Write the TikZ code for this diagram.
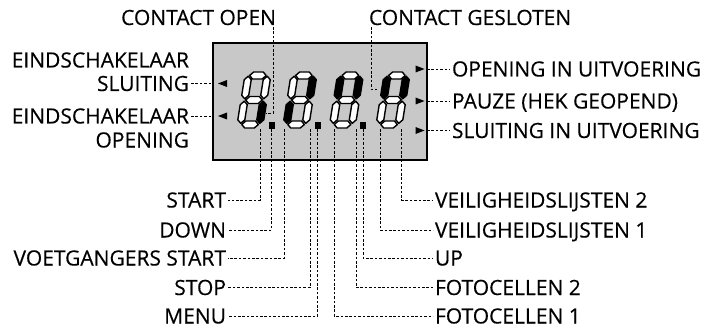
\documentclass[tikz,border=0pt]{standalone}
\usepackage{fontspec}
\setmainfont[FakeBold=0.35]{Open Sans}
\definecolor{boxgray}{RGB}{200,200,200}
\newcommand\sevdigit[8]{%
\begin{scope}[shift={(#1,128)}, x={(1pt,0pt)}, y={(0.16pt,1pt)}]
\filldraw[seg,fill=#2] (4.7,52.5) -- (8.2,56) -- (17.8,56) -- (21.3,52.5) -- (17.8,49) -- (8.2,49) -- cycle;
\filldraw[seg,fill=#3] (22.5,29.2) -- (26,32.7) -- (26,48.3) -- (22.5,51.8) -- (19,48.3) -- (19,32.7) -- cycle;
\filldraw[seg,fill=#4] (22.5,4.7) -- (26,8.2) -- (26,23.3) -- (22.5,26.8) -- (19,23.3) -- (19,8.2) -- cycle;
\filldraw[seg,fill=#5] (4.7,3.5) -- (8.2,7) -- (17.8,7) -- (21.3,3.5) -- (17.8,0) -- (8.2,0) -- cycle;
\filldraw[seg,fill=#6] (3.5,4.7) -- (7,8.2) -- (7,23.3) -- (3.5,26.8) -- (0,23.3) -- (0,8.2) -- cycle;
\filldraw[seg,fill=#7] (3.5,29.2) -- (7,32.7) -- (7,48.3) -- (3.5,51.8) -- (0,48.3) -- (0,32.7) -- cycle;
\filldraw[seg,fill=#8] (4.7,28) -- (8.2,31.5) -- (17.8,31.5) -- (21.3,28) -- (17.8,24.5) -- (8.2,24.5) -- cycle;
\end{scope}}
\begin{document}
\begin{tikzpicture}[x=1pt,y=-1pt,
  lbl/.style={font=\fontsize{21}{21}\selectfont, inner sep=0pt, outer sep=2pt, text height=15pt, text depth=0pt},
  dl/.style={dash pattern=on 2.6pt off 1.8pt, line width=0.9pt},
  seg/.style={draw=black, line width=1.4pt, line join=round},
  dpt/.style={fill=black},
  arr/.style={fill=black}]
\useasboundingbox (0,0) rectangle (702,329);
% display box
\node[draw, line width=2.2pt, fill=boxgray, minimum width=214pt, minimum height=117pt, inner sep=0pt, outer sep=0pt] (box) at (320,101.5) {};
% labels
\node[lbl, anchor=east] (lEINDa) at (191,60) {EINDSCHAKELAAR};
\node[lbl, anchor=east] (lSLUIT) at (191,83.5) {SLUITING};
\node[lbl, anchor=east] (lEINDb) at (191,116) {EINDSCHAKELAAR};
\node[lbl, anchor=east] (lOPEN) at (191,140) {OPENING};
\node[lbl, anchor=west] (rOPEN) at (450,69) {OPENING IN UITVOERING};
\node[lbl, anchor=west] (rPAUZE) at (450,101) {PAUZE (HEK GEOPEND)};
\node[lbl, anchor=west] (rSLUIT) at (450,130.5) {SLUITING IN UITVOERING};
\node[lbl, anchor=east] (cOPEN) at (278,17.5) {CONTACT OPEN};
\node[lbl, anchor=west] (cGESL) at (367,17.5) {CONTACT GESLOTEN};
\node[lbl, anchor=east] (bSTART) at (228,200) {START};
\node[lbl, anchor=east] (bDOWN) at (228,230) {DOWN};
\node[lbl, anchor=east] (bVOET) at (228,258) {VOETGANGERS START};
\node[lbl, anchor=east] (bSTOP) at (228,287.5) {STOP};
\node[lbl, anchor=east] (bMENU) at (228,316) {MENU};
\node[lbl, anchor=west] (bVEIL2) at (433,200) {VEILIGHEIDSLIJSTEN 2};
\node[lbl, anchor=west] (bVEIL1) at (433,230) {VEILIGHEIDSLIJSTEN 1};
\node[lbl, anchor=west] (bUP) at (433,258) {UP};
\node[lbl, anchor=west] (bFOTO2) at (433,287.5) {FOTOCELLEN 2};
\node[lbl, anchor=west] (bFOTO1) at (433,316) {FOTOCELLEN 1};
% side connectors
\draw[dl] (lSLUIT.east) -- (lSLUIT.east -| box.west);
\draw[dl] (lEINDb.east) -- (lEINDb.east -| box.west);
\draw[dl] (box.east |- rOPEN.west) -- (rOPEN.west);
\draw[dl] (box.east |- rPAUZE.west) -- (rPAUZE.west);
\draw[dl] (box.east |- rSLUIT.west) -- (rSLUIT.west);
% arrows in box
\fill[arr] (227,80) -- (218,83.5) -- (227,87) -- cycle;
\fill[arr] (227,112.5) -- (218,116) -- (227,119.5) -- cycle;
\fill[arr] (415.5,65.5) -- (424.5,69) -- (415.5,72.5) -- cycle;
\fill[arr] (415.5,97.5) -- (424.5,101) -- (415.5,104.5) -- cycle;
\fill[arr] (415.5,127) -- (424.5,130.5) -- (415.5,134) -- cycle;
% top connectors
\coordinate (tOPEN) at (266,113);
\coordinate (kOPEN) at (273,113);
\coordinate (tGESL) at (377,89);
\coordinate (kGESL) at (371,89);
\draw[dl] (kOPEN |- cOPEN.south) -- (kOPEN) -- (tOPEN);
\draw[dl] (kGESL |- cGESL.south) -- (kGESL) -- (tGESL);
% bottom connectors
\coordinate (pSTART) at (260,129);
\coordinate (pDOWN) at (271.5,129);
\coordinate (pVOET) at (284,129);
\coordinate (pSTOP) at (310,129);
\coordinate (pMENU) at (317.5,129);
\coordinate (pFOTO1) at (334,129);
\coordinate (pFOTO2) at (356,129);
\coordinate (pUP) at (363,129);
\coordinate (pVEIL1) at (380,129);
\coordinate (pVEIL2) at (401.5,129);
\draw[dl] (pSTART) |- (bSTART.east);
\draw[dl] (pDOWN) |- (bDOWN.east);
\draw[dl] (pVOET) |- (bVOET.east);
\draw[dl] (pSTOP) |- (bSTOP.east);
\draw[dl] (pMENU) |- (bMENU.east);
\draw[dl] (pFOTO1) |- (bFOTO1.west);
\draw[dl] (pFOTO2) |- (bFOTO2.west);
\draw[dl] (pUP) |- (bUP.west);
\draw[dl] (pVEIL1) |- (bVEIL1.west);
\draw[dl] (pVEIL2) |- (bVEIL2.west);
% digits: a b c d e f g
\sevdigit{236.5}{white}{white}{black}{white}{white}{white}{white}
\sevdigit{282.5}{white}{black}{white}{white}{black}{white}{white}
\sevdigit{329}{white}{black}{white}{white}{white}{black}{white}
\sevdigit{375.5}{white}{black}{white}{white}{white}{black}{white}
% decimal points
\fill[dpt] (268.5,122) rectangle (275,128.5);
\fill[dpt] (314.5,122) rectangle (321,128.5);
\fill[dpt] (359.5,122) rectangle (366,128.5);
\end{tikzpicture}
\end{document}
